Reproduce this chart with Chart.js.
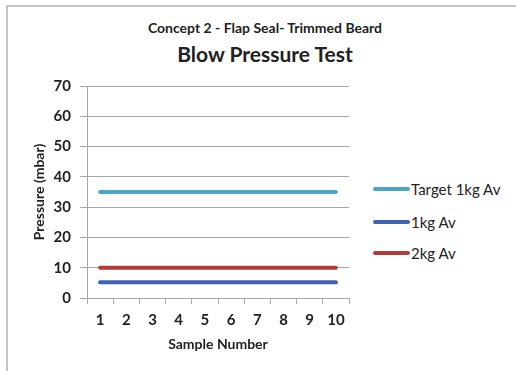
<!DOCTYPE html>
<html>
<head>
<meta charset="utf-8">
<script src="https://cdn.jsdelivr.net/npm/chart.js@4/dist/chart.umd.min.js"></script>
<style>
  html, body { margin: 0; padding: 0; background: #fff; }
  #wrap { position: relative; width: 516px; height: 371px; overflow: hidden; font-family: Lato, sans-serif; color: #222; }
  #frame { position: absolute; left: 6px; top: 5px; right: -4px; bottom: -4px; border-top: 2px solid #c4c4c4; border-left: 2px solid #c4c4c4; }
  .title { position: absolute; left: 0; width: 530px; text-align: center; font-weight: bold; white-space: nowrap; }
  #t1 { top: 19px; font-size: 14px; }
  #t2 { top: 41px; font-size: 21px; }
  #legend { position: absolute; left: 373px; top: 180px; font-size: 15px; }
  .item { position: absolute; left: 0; height: 18px; display: flex; align-items: center; white-space: nowrap; }
  .swatch { display: inline-block; width: 37px; height: 4px; margin-right: 1px; border-radius: 2px; }
  canvas { position: absolute; left: 0; top: 0; }
</style>
</head>
<body>
<div id="wrap">
  <div id="frame"></div>
  <div class="title" id="t1">Concept 2 - Flap Seal- Trimmed Beard</div>
  <div class="title" id="t2">Blow Pressure Test</div>
  <div id="legend"></div>
  <canvas id="chart" width="516" height="371"></canvas>
</div>
<script>
const samples = ['1', '2', '3', '4', '5', '6', '7', '8', '9', '10'];
const target1kg = [35, 35, 35, 35, 35, 35, 35, 35, 35, 35];
const avg1kg = [5.2, 5.2, 5.2, 5.2, 5.2, 5.2, 5.2, 5.2, 5.2, 5.2];
const avg2kg = [10, 10, 10, 10, 10, 10, 10, 10, 10, 10];
const yTicks = [0, 10, 20, 30, 40, 50, 60, 70];

const seriesNames = ['Target 1kg Av', '1kg Av', '2kg Av'];
const seriesColors = ['#4ba6c4', '#3f63b3', '#b23b3b'];
const seriesData = [target1kg, avg1kg, avg2kg];

const gridGray = '#a8a8a8';
const labelFont = { family: 'Lato', size: 15, weight: 'bold' };
const axisTitleFont = { family: 'Lato', size: 14, weight: 'bold' };

// legend on the right, one row per series
const legend = document.getElementById('legend');
const rowTops = [0, 33, 64];
seriesNames.forEach((name, i) => {
  const row = document.createElement('div');
  row.className = 'item';
  row.style.top = rowTops[i] + 'px';
  row.innerHTML = `<span class="swatch" style="background:${seriesColors[i]}"></span>${name}`;
  legend.appendChild(row);
});

const ctx = document.getElementById('chart').getContext('2d');
new Chart(ctx, {
  type: 'line',
  data: {
    labels: samples,
    datasets: seriesData.map((d, i) => ({
      label: seriesNames[i],
      data: d,
      borderColor: seriesColors[i],
      backgroundColor: seriesColors[i],
      borderWidth: 4,
      borderCapStyle: 'round',
      pointRadius: 0,
      tension: 0
    }))
  },
  options: {
    responsive: false,
    animation: false,
    layout: { padding: { top: 86, right: 167, bottom: 0, left: 0 } },
    plugins: {
      legend: { display: false },
      title: { display: false },
      tooltip: { enabled: false }
    },
    scales: {
      x: {
        offset: true,
        afterFit: s => { s.height = 73; },
        grid: { offset: true, drawOnChartArea: false, drawTicks: true, tickLength: 6, color: gridGray },
        border: { color: gridGray, width: 1 },
        ticks: { color: '#222', font: labelFont, padding: 7, maxRotation: 0 },
        title: { display: true, text: 'Sample Number', color: '#222', font: axisTitleFont, padding: { top: 4, bottom: 18 } }
      },
      y: {
        min: 0,
        max: 70,
        afterFit: s => { s.width = 87; },
        afterBuildTicks: s => { s.ticks = yTicks.map(v => ({ value: v })); },
        grid: { color: gridGray, tickLength: 7 },
        border: { color: gridGray, width: 1 },
        ticks: { color: '#222', font: labelFont, padding: 9 },
        title: { display: true, text: 'Pressure (mbar)', color: '#222', font: axisTitleFont, padding: { top: 31, bottom: 4 } }
      }
    }
  }
});
</script>
</body>
</html>
